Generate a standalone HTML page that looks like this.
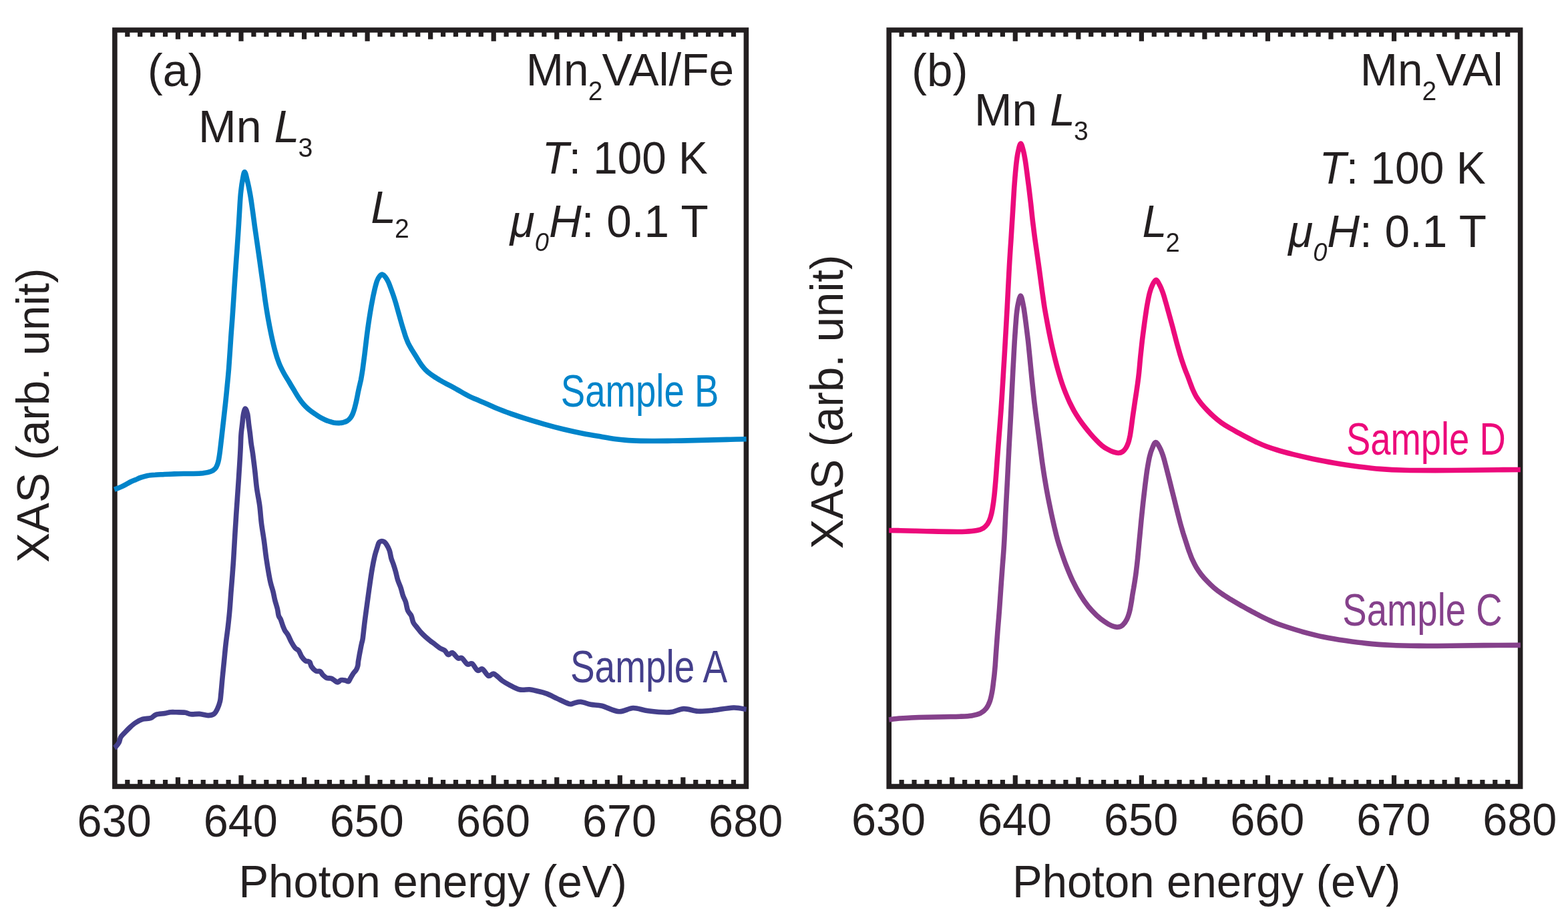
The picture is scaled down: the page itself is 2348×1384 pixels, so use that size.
<!DOCTYPE html>
<html><head><meta charset="utf-8"><title>XAS spectra</title>
<style>html,body{margin:0;padding:0;background:#fff;}svg{display:block;}</style>
</head><body>
<svg width="2348" height="1384" viewBox="0 0 2348 1384" font-family="'Liberation Sans', Arial, Helvetica, sans-serif">
<rect width="2348" height="1384" fill="#fff"/>
<rect x="171.9" y="45.0" width="945.50" height="1133.00" fill="none" stroke="#231f20" stroke-width="7.6"/>
<path d="M190.81,47.80V55.00M190.81,1175.20V1168.00M209.72,47.80V55.00M209.72,1175.20V1168.00M228.63,47.80V55.00M228.63,1175.20V1168.00M247.54,47.80V55.00M247.54,1175.20V1168.00M266.45,47.80V58.80M266.45,1175.20V1164.20M285.36,47.80V55.00M285.36,1175.20V1168.00M304.27,47.80V55.00M304.27,1175.20V1168.00M323.18,47.80V55.00M323.18,1175.20V1168.00M342.09,47.80V55.00M342.09,1175.20V1168.00M361.00,47.80V61.80M361.00,1175.20V1161.20M379.91,47.80V55.00M379.91,1175.20V1168.00M398.82,47.80V55.00M398.82,1175.20V1168.00M417.73,47.80V55.00M417.73,1175.20V1168.00M436.64,47.80V55.00M436.64,1175.20V1168.00M455.55,47.80V58.80M455.55,1175.20V1164.20M474.46,47.80V55.00M474.46,1175.20V1168.00M493.37,47.80V55.00M493.37,1175.20V1168.00M512.28,47.80V55.00M512.28,1175.20V1168.00M531.19,47.80V55.00M531.19,1175.20V1168.00M550.10,47.80V61.80M550.10,1175.20V1161.20M569.01,47.80V55.00M569.01,1175.20V1168.00M587.92,47.80V55.00M587.92,1175.20V1168.00M606.83,47.80V55.00M606.83,1175.20V1168.00M625.74,47.80V55.00M625.74,1175.20V1168.00M644.65,47.80V58.80M644.65,1175.20V1164.20M663.56,47.80V55.00M663.56,1175.20V1168.00M682.47,47.80V55.00M682.47,1175.20V1168.00M701.38,47.80V55.00M701.38,1175.20V1168.00M720.29,47.80V55.00M720.29,1175.20V1168.00M739.20,47.80V61.80M739.20,1175.20V1161.20M758.11,47.80V55.00M758.11,1175.20V1168.00M777.02,47.80V55.00M777.02,1175.20V1168.00M795.93,47.80V55.00M795.93,1175.20V1168.00M814.84,47.80V55.00M814.84,1175.20V1168.00M833.75,47.80V58.80M833.75,1175.20V1164.20M852.66,47.80V55.00M852.66,1175.20V1168.00M871.57,47.80V55.00M871.57,1175.20V1168.00M890.48,47.80V55.00M890.48,1175.20V1168.00M909.39,47.80V55.00M909.39,1175.20V1168.00M928.30,47.80V61.80M928.30,1175.20V1161.20M947.21,47.80V55.00M947.21,1175.20V1168.00M966.12,47.80V55.00M966.12,1175.20V1168.00M985.03,47.80V55.00M985.03,1175.20V1168.00M1003.94,47.80V55.00M1003.94,1175.20V1168.00M1022.85,47.80V58.80M1022.85,1175.20V1164.20M1041.76,47.80V55.00M1041.76,1175.20V1168.00M1060.67,47.80V55.00M1060.67,1175.20V1168.00M1079.58,47.80V55.00M1079.58,1175.20V1168.00M1098.49,47.80V55.00M1098.49,1175.20V1168.00" stroke="#231f20" stroke-width="7.2" fill="none"/>
<rect x="1331.2" y="45.0" width="945.40" height="1133.00" fill="none" stroke="#231f20" stroke-width="7.6"/>
<path d="M1350.11,47.80V55.00M1350.11,1175.20V1168.00M1369.02,47.80V55.00M1369.02,1175.20V1168.00M1387.92,47.80V55.00M1387.92,1175.20V1168.00M1406.83,47.80V55.00M1406.83,1175.20V1168.00M1425.74,47.80V58.80M1425.74,1175.20V1164.20M1444.65,47.80V55.00M1444.65,1175.20V1168.00M1463.56,47.80V55.00M1463.56,1175.20V1168.00M1482.46,47.80V55.00M1482.46,1175.20V1168.00M1501.37,47.80V55.00M1501.37,1175.20V1168.00M1520.28,47.80V61.80M1520.28,1175.20V1161.20M1539.19,47.80V55.00M1539.19,1175.20V1168.00M1558.10,47.80V55.00M1558.10,1175.20V1168.00M1577.00,47.80V55.00M1577.00,1175.20V1168.00M1595.91,47.80V55.00M1595.91,1175.20V1168.00M1614.82,47.80V58.80M1614.82,1175.20V1164.20M1633.73,47.80V55.00M1633.73,1175.20V1168.00M1652.64,47.80V55.00M1652.64,1175.20V1168.00M1671.54,47.80V55.00M1671.54,1175.20V1168.00M1690.45,47.80V55.00M1690.45,1175.20V1168.00M1709.36,47.80V61.80M1709.36,1175.20V1161.20M1728.27,47.80V55.00M1728.27,1175.20V1168.00M1747.18,47.80V55.00M1747.18,1175.20V1168.00M1766.08,47.80V55.00M1766.08,1175.20V1168.00M1784.99,47.80V55.00M1784.99,1175.20V1168.00M1803.90,47.80V58.80M1803.90,1175.20V1164.20M1822.81,47.80V55.00M1822.81,1175.20V1168.00M1841.72,47.80V55.00M1841.72,1175.20V1168.00M1860.62,47.80V55.00M1860.62,1175.20V1168.00M1879.53,47.80V55.00M1879.53,1175.20V1168.00M1898.44,47.80V61.80M1898.44,1175.20V1161.20M1917.35,47.80V55.00M1917.35,1175.20V1168.00M1936.26,47.80V55.00M1936.26,1175.20V1168.00M1955.16,47.80V55.00M1955.16,1175.20V1168.00M1974.07,47.80V55.00M1974.07,1175.20V1168.00M1992.98,47.80V58.80M1992.98,1175.20V1164.20M2011.89,47.80V55.00M2011.89,1175.20V1168.00M2030.80,47.80V55.00M2030.80,1175.20V1168.00M2049.70,47.80V55.00M2049.70,1175.20V1168.00M2068.61,47.80V55.00M2068.61,1175.20V1168.00M2087.52,47.80V61.80M2087.52,1175.20V1161.20M2106.43,47.80V55.00M2106.43,1175.20V1168.00M2125.34,47.80V55.00M2125.34,1175.20V1168.00M2144.24,47.80V55.00M2144.24,1175.20V1168.00M2163.15,47.80V55.00M2163.15,1175.20V1168.00M2182.06,47.80V58.80M2182.06,1175.20V1164.20M2200.97,47.80V55.00M2200.97,1175.20V1168.00M2219.88,47.80V55.00M2219.88,1175.20V1168.00M2238.78,47.80V55.00M2238.78,1175.20V1168.00M2257.69,47.80V55.00M2257.69,1175.20V1168.00" stroke="#231f20" stroke-width="7.2" fill="none"/>
<path d="M171.2,733.2 C171.8,733.0 173.0,732.5 174.7,731.9 C176.5,731.2 179.3,730.2 181.7,729.1 C184.1,728.0 187.0,726.4 189.4,725.1 C191.8,723.9 193.7,722.6 196.0,721.5 C198.3,720.4 200.5,719.6 203.0,718.6 C205.5,717.5 208.2,716.2 211.1,715.2 C214.0,714.2 217.1,713.2 220.7,712.5 C224.2,711.9 228.1,711.6 232.4,711.3 C236.7,710.9 241.5,710.8 246.2,710.5 C251.0,710.3 256.4,710.1 261.1,709.9 C265.9,709.7 270.4,709.6 275.0,709.5 C279.6,709.4 284.1,709.6 288.9,709.5 C293.6,709.4 299.3,709.3 303.8,708.8 C308.2,708.2 312.6,707.4 315.6,706.3 C318.7,705.2 320.5,703.9 322.1,702.1 C323.7,700.3 324.6,698.1 325.5,695.8 C326.4,693.4 327.0,691.3 327.6,688.0 C328.2,684.7 328.7,681.4 329.4,676.0 C330.1,670.6 330.9,663.2 331.8,655.5 C332.7,647.8 333.7,638.6 334.7,630.0 C335.6,621.4 336.6,612.7 337.6,604.0 C338.5,595.3 339.4,586.7 340.2,578.0 C341.1,569.3 341.9,560.7 342.6,552.0 C343.2,543.3 343.8,534.6 344.4,526.0 C345.0,517.4 345.6,508.9 346.1,500.5 C346.7,492.1 347.4,483.9 348.0,475.5 C348.6,467.1 349.2,458.6 349.7,450.0 C350.3,441.4 350.8,432.7 351.4,424.0 C352.0,415.3 352.6,406.7 353.2,398.0 C353.8,389.3 354.5,380.2 355.1,372.0 C355.7,363.8 356.2,355.7 356.7,348.5 C357.2,341.3 357.5,335.4 357.9,329.0 C358.3,322.6 358.6,316.5 359.0,310.0 C359.4,303.5 359.8,296.4 360.4,290.0 C361.1,283.6 361.8,277.3 362.8,271.9 C363.8,266.5 365.0,257.5 366.3,257.5 C367.6,257.5 369.3,266.5 370.7,271.9 C372.0,277.3 373.3,283.6 374.4,290.0 C375.6,296.4 376.6,303.5 377.5,310.0 C378.5,316.5 379.2,322.6 380.1,329.0 C380.9,335.4 381.7,341.3 382.8,348.5 C383.8,355.7 385.0,363.8 386.2,372.0 C387.4,380.2 388.7,389.3 389.9,398.0 C391.1,406.7 392.3,415.3 393.6,424.0 C394.8,432.7 395.9,441.4 397.1,450.0 C398.4,458.6 399.7,467.1 401.2,475.5 C402.7,483.9 404.3,492.4 406.0,500.5 C407.7,508.6 409.6,517.1 411.6,524.4 C413.5,531.6 415.6,538.2 417.8,543.9 C420.0,549.6 422.3,553.9 424.8,558.5 C427.2,563.1 430.0,567.2 432.6,571.5 C435.1,575.9 437.8,580.4 440.4,584.6 C442.9,588.8 445.4,593.1 447.8,596.6 C450.1,600.1 452.4,603.0 454.5,605.5 C456.6,608.0 458.4,609.7 460.5,611.6 C462.6,613.5 464.9,615.2 467.1,616.9 C469.4,618.5 471.9,620.2 474.1,621.6 C476.2,623.1 478.2,624.3 480.2,625.5 C482.2,626.7 484.1,627.6 486.1,628.5 C488.2,629.5 490.3,630.3 492.5,631.0 C494.7,631.7 496.9,632.5 499.3,633.0 C501.7,633.4 504.2,633.6 506.6,633.6 C509.1,633.6 511.9,633.2 514.2,632.7 C516.4,632.1 518.5,631.3 520.2,630.2 C522.0,629.2 523.3,627.8 524.6,626.2 C525.9,624.6 526.9,622.6 527.9,620.5 C528.9,618.3 529.7,615.7 530.5,613.1 C531.3,610.5 532.0,607.6 532.7,604.7 C533.4,601.9 534.0,598.9 534.6,596.0 C535.2,593.1 535.7,590.2 536.3,587.3 C536.9,584.4 537.5,581.8 538.2,578.7 C538.9,575.6 539.6,573.0 540.5,568.7 C541.3,564.4 542.2,559.4 543.1,553.0 C544.0,546.6 545.1,538.2 546.1,530.0 C547.1,521.8 548.1,512.7 549.2,504.0 C550.3,495.3 551.5,486.4 552.8,478.0 C554.1,469.6 555.5,460.9 556.9,453.6 C558.2,446.3 559.6,439.6 560.9,434.1 C562.2,428.7 563.3,424.4 564.5,421.0 C565.8,417.6 566.9,415.6 568.3,413.9 C569.7,412.3 571.1,410.9 572.7,411.2 C574.3,411.5 576.2,413.7 577.7,415.8 C579.3,417.9 580.7,420.8 582.1,423.7 C583.4,426.7 584.6,430.2 585.8,433.5 C587.0,436.8 588.2,440.0 589.4,443.6 C590.6,447.2 591.8,451.0 593.0,455.0 C594.1,459.0 595.4,463.4 596.5,467.6 C597.7,471.8 598.8,475.9 600.0,480.0 C601.1,484.0 602.2,487.8 603.4,491.6 C604.6,495.5 605.8,499.6 607.1,503.4 C608.4,507.1 609.8,510.7 611.3,514.1 C612.9,517.4 614.7,520.4 616.5,523.5 C618.4,526.6 620.4,529.8 622.4,532.9 C624.3,536.1 626.3,539.5 628.2,542.3 C630.1,545.2 631.7,547.7 633.8,550.1 C635.8,552.6 637.6,554.5 640.3,556.9 C643.0,559.2 646.6,561.7 650.0,564.0 C653.4,566.3 657.2,568.5 660.6,570.5 C664.0,572.5 667.2,574.0 670.5,575.8 C673.8,577.6 677.1,579.3 680.4,581.1 C683.8,583.0 687.1,585.0 690.7,587.0 C694.3,589.1 697.9,591.2 702.2,593.3 C706.4,595.4 711.5,597.5 716.2,599.5 C720.9,601.6 725.6,603.5 730.3,605.5 C735.0,607.6 739.0,609.6 744.3,611.8 C749.7,614.0 755.4,616.3 762.2,618.7 C769.0,621.2 776.7,623.7 785.2,626.4 C793.7,629.1 803.5,632.1 813.3,634.8 C823.1,637.6 833.9,640.5 844.0,643.0 C854.1,645.4 864.3,647.6 873.7,649.5 C883.0,651.3 891.8,652.7 900.0,654.1 C908.1,655.5 914.8,656.7 922.6,657.7 C930.4,658.6 937.7,659.4 946.5,659.9 C955.4,660.4 965.6,660.5 975.8,660.5 C986.0,660.6 997.1,660.4 1007.8,660.3 C1018.4,660.1 1029.5,659.9 1039.7,659.6 C1049.9,659.4 1060.0,659.1 1069.0,658.9 C1078.0,658.6 1085.7,658.4 1093.8,658.2 C1101.9,658.0 1113.6,657.8 1117.6,657.7" fill="none" stroke="#0084ca" stroke-width="7.6" stroke-linejoin="round" stroke-linecap="butt"/>
<path d="M171.2,1120.0 C171.5,1119.8 171.8,1120.1 173.0,1118.8 C174.2,1117.5 176.9,1114.4 178.2,1111.9 C179.5,1109.5 179.4,1106.5 180.8,1104.1 C182.2,1101.6 184.6,1099.7 186.9,1097.2 C189.2,1094.8 192.0,1091.9 194.7,1089.4 C197.4,1086.9 200.1,1084.4 203.3,1082.4 C206.5,1080.4 209.9,1078.4 213.7,1077.2 C217.5,1076.0 222.6,1076.7 225.9,1075.5 C229.2,1074.3 230.2,1071.5 233.7,1070.3 C237.2,1069.1 243.1,1069.1 246.7,1068.5 C250.3,1067.9 252.5,1067.1 255.4,1066.8 C258.3,1066.5 260.4,1066.7 264.0,1066.8 C267.6,1066.9 273.4,1066.7 277.0,1067.2 C280.6,1067.7 282.1,1069.4 285.7,1069.8 C289.3,1070.2 294.4,1069.1 298.7,1069.4 C303.0,1069.7 308.1,1071.6 311.7,1071.6 C315.3,1071.6 318.1,1071.1 320.4,1069.4 C322.7,1067.7 324.1,1064.8 325.6,1061.6 C327.1,1058.4 328.6,1053.9 329.5,1050.3 C330.4,1046.7 330.2,1045.7 330.8,1040.0 C331.4,1034.3 332.2,1024.3 333.0,1016.0 C333.8,1007.7 334.7,998.7 335.6,990.0 C336.5,981.3 337.2,972.7 338.2,964.0 C339.2,955.3 340.5,946.7 341.5,938.0 C342.5,929.3 343.4,920.7 344.1,912.0 C344.9,903.3 345.3,894.7 346.0,886.0 C346.7,877.3 347.5,868.3 348.1,860.0 C348.7,851.7 349.3,844.3 349.8,836.0 C350.3,827.7 350.8,818.7 351.3,810.0 C351.8,801.3 352.3,792.7 352.9,784.0 C353.4,775.3 354.0,766.7 354.6,758.0 C355.2,749.3 355.8,740.7 356.4,732.0 C357.0,723.3 357.6,714.7 358.1,706.0 C358.7,697.3 359.3,686.8 359.7,680.0 C360.1,673.2 360.2,670.0 360.4,665.0 C360.6,660.0 360.7,655.0 361.1,650.0 C361.5,645.0 362.2,640.0 362.8,635.0 C363.4,630.0 363.8,623.8 364.6,620.0 C365.4,616.2 366.4,612.0 367.4,612.0 C368.4,612.0 369.8,616.2 370.6,620.0 C371.5,623.8 371.9,630.0 372.5,635.0 C373.1,640.0 373.9,645.0 374.5,650.0 C375.1,655.0 375.5,660.0 376.2,665.0 C376.9,670.0 377.7,673.2 378.6,680.0 C379.5,686.8 380.8,697.3 381.8,706.0 C382.8,714.7 383.4,723.3 384.6,732.0 C385.8,740.7 387.8,749.3 388.9,758.0 C390.0,766.7 390.4,775.3 391.5,784.0 C392.6,792.7 394.2,801.3 395.4,810.0 C396.6,818.7 397.5,827.7 398.7,836.0 C399.9,844.3 401.5,853.8 402.6,860.0 C403.7,866.2 404.1,868.7 405.2,873.0 C406.2,877.3 407.8,881.7 408.9,886.0 C410.0,890.3 410.6,894.7 411.7,899.0 C412.8,903.3 414.5,908.1 415.4,912.0 C416.3,915.9 416.5,919.8 417.3,922.4 C418.1,925.0 419.1,925.0 420.2,927.6 C421.3,930.2 422.7,935.2 423.8,938.0 C424.9,940.8 425.5,942.4 426.7,944.6 C427.9,946.8 429.6,948.2 431.2,951.0 C432.8,953.8 434.4,958.2 436.2,961.5 C438.0,964.8 440.2,968.4 442.0,970.6 C443.8,972.8 445.6,972.3 447.2,974.5 C448.8,976.7 450.1,981.0 451.8,983.6 C453.5,986.2 456.1,988.9 457.6,990.0 C459.1,991.1 459.9,990.2 461.0,990.5 C462.1,990.8 463.1,990.7 464.0,992.0 C464.9,993.3 465.0,996.3 466.5,998.5 C468.0,1000.7 470.8,1003.8 473.0,1005.0 C475.2,1006.2 477.8,1004.7 479.5,1005.7 C481.2,1006.7 481.8,1009.3 483.4,1010.9 C485.0,1012.5 487.2,1014.5 489.3,1015.4 C491.4,1016.3 494.0,1015.5 495.8,1016.1 C497.6,1016.7 498.7,1017.7 500.3,1018.7 C501.9,1019.7 503.8,1022.0 505.5,1022.0 C507.2,1022.0 508.8,1019.2 510.7,1018.7 C512.5,1018.2 514.8,1018.7 516.6,1019.0 C518.5,1019.3 520.4,1021.3 521.8,1020.7 C523.2,1020.1 523.8,1017.4 525.0,1015.4 C526.2,1013.4 527.5,1010.9 528.9,1008.9 C530.3,1006.9 532.4,1005.0 533.5,1003.1 C534.6,1001.2 535.3,999.3 535.8,997.2 C536.3,995.1 536.1,993.2 536.5,990.7 C536.9,988.2 537.5,985.0 538.0,982.0 C538.5,979.0 539.2,975.7 539.8,972.5 C540.4,969.3 541.2,965.5 541.8,962.8 C542.4,960.0 542.5,961.5 543.3,956.0 C544.0,950.5 545.2,938.7 546.3,930.0 C547.4,921.3 548.6,912.7 549.8,904.0 C551.0,895.3 552.1,886.7 553.4,878.0 C554.6,869.3 556.0,859.6 557.3,852.0 C558.6,844.4 559.9,837.9 561.2,832.5 C562.5,827.1 564.0,822.9 565.1,819.5 C566.2,816.1 566.5,813.4 568.0,812.0 C569.5,810.6 572.4,810.4 574.2,811.0 C576.0,811.6 577.3,813.3 578.8,815.6 C580.3,817.9 582.1,821.2 583.3,824.7 C584.5,828.2 584.9,832.9 585.9,836.4 C586.9,839.9 588.1,842.2 589.2,845.5 C590.3,848.8 591.3,852.0 592.4,855.9 C593.5,859.8 594.4,864.8 595.7,868.9 C597.0,873.0 598.9,876.7 600.2,880.6 C601.5,884.5 602.3,888.8 603.5,892.3 C604.7,895.8 606.2,897.7 607.4,901.4 C608.6,905.1 609.2,910.9 610.6,914.4 C612.0,917.9 614.4,919.2 615.8,922.2 C617.2,925.2 617.5,929.6 619.0,932.6 C620.5,935.6 623.0,938.0 624.9,940.4 C626.8,942.8 628.1,944.7 630.1,946.9 C632.1,949.1 634.2,951.2 636.6,953.4 C639.0,955.6 642.2,958.2 644.4,959.9 C646.6,961.6 647.2,962.0 649.6,963.8 C652.0,965.6 655.8,968.8 658.5,970.6 C661.2,972.4 664.0,972.8 666.1,974.5 C668.2,976.2 669.3,980.2 671.2,980.7 C673.1,981.2 675.0,976.8 677.4,977.6 C679.8,978.5 683.2,984.4 685.6,985.8 C688.0,987.2 689.3,984.3 691.7,985.8 C694.1,987.3 697.4,993.6 699.9,995.0 C702.4,996.4 704.5,992.5 707.0,994.0 C709.5,995.5 712.6,1002.9 715.2,1004.2 C717.8,1005.6 719.7,1000.7 722.4,1002.1 C725.1,1003.5 728.7,1011.2 731.6,1012.4 C734.5,1013.6 736.3,1008.1 739.7,1009.3 C743.1,1010.5 748.2,1016.8 752.0,1019.5 C755.8,1022.2 757.9,1023.4 762.2,1025.6 C766.5,1027.8 772.5,1031.6 777.6,1032.8 C782.7,1034.0 788.6,1032.5 792.9,1032.8 C797.1,1033.1 798.9,1033.8 803.1,1034.8 C807.4,1035.8 813.3,1037.0 818.4,1038.9 C823.5,1040.8 828.2,1043.5 833.8,1046.1 C839.4,1048.7 848.0,1053.1 852.2,1054.3 C856.5,1055.5 856.4,1053.7 859.3,1053.2 C862.2,1052.7 865.2,1050.9 869.5,1051.2 C873.8,1051.5 879.6,1054.3 884.9,1055.3 C890.2,1056.3 894.3,1055.5 901.3,1057.3 C908.3,1059.0 919.0,1065.3 926.8,1065.8 C934.6,1066.3 940.8,1060.7 948.1,1060.5 C955.4,1060.3 961.5,1063.7 970.5,1064.8 C979.5,1065.9 993.5,1067.4 1002.4,1066.9 C1011.3,1066.4 1016.6,1061.9 1023.7,1061.6 C1030.8,1061.3 1037.9,1064.9 1045.0,1065.3 C1052.1,1065.7 1057.4,1065.1 1066.3,1064.2 C1075.2,1063.3 1089.8,1060.3 1098.3,1060.0 C1106.8,1059.7 1114.4,1062.2 1117.6,1062.6" fill="none" stroke="#443f8b" stroke-width="7.6" stroke-linejoin="round" stroke-linecap="butt"/>
<path d="M1331.2,794.5 C1334.1,794.5 1341.7,794.6 1348.4,794.7 C1355.0,794.9 1363.1,795.1 1371.1,795.3 C1379.2,795.5 1388.2,795.7 1396.7,795.9 C1405.2,796.1 1414.1,796.3 1422.2,796.4 C1430.4,796.5 1438.9,796.6 1445.7,796.3 C1452.4,796.0 1458.2,795.5 1462.7,794.6 C1467.2,793.7 1469.9,792.5 1472.6,790.9 C1475.3,789.3 1476.9,787.4 1478.7,784.9 C1480.4,782.4 1481.7,779.5 1483.0,775.6 C1484.2,771.8 1485.3,767.4 1486.2,761.9 C1487.2,756.3 1488.1,749.7 1488.9,742.4 C1489.7,735.1 1490.4,726.4 1491.1,718.0 C1491.8,709.6 1492.4,700.7 1493.0,692.0 C1493.7,683.3 1494.3,674.6 1495.0,666.0 C1495.6,657.4 1496.3,648.9 1497.0,640.5 C1497.6,632.1 1498.3,623.9 1498.9,615.5 C1499.5,607.1 1500.1,598.6 1500.6,590.0 C1501.2,581.4 1501.6,572.7 1502.2,564.0 C1502.7,555.3 1503.2,546.7 1503.8,538.0 C1504.3,529.3 1504.8,520.7 1505.3,512.0 C1505.8,503.3 1506.3,494.6 1506.8,486.0 C1507.2,477.4 1507.7,468.9 1508.2,460.5 C1508.6,452.1 1509.1,443.9 1509.5,435.5 C1509.9,427.1 1510.3,418.6 1510.8,410.0 C1511.3,401.4 1511.7,392.7 1512.3,384.0 C1512.8,375.3 1513.4,366.7 1514.0,358.0 C1514.5,349.3 1515.1,340.7 1515.6,332.0 C1516.2,323.3 1516.7,314.4 1517.2,306.0 C1517.7,297.6 1518.2,289.2 1518.7,281.5 C1519.3,273.8 1519.8,266.7 1520.4,260.0 C1521.0,253.3 1521.6,246.9 1522.3,241.2 C1523.0,235.6 1523.7,230.6 1524.8,226.2 C1525.8,221.9 1527.2,215.0 1528.5,215.0 C1529.8,215.0 1531.3,221.9 1532.5,226.2 C1533.6,230.6 1534.5,235.6 1535.4,241.2 C1536.3,246.9 1537.1,253.3 1538.0,260.0 C1538.8,266.7 1539.8,273.8 1540.8,281.5 C1541.7,289.2 1542.7,297.6 1543.7,306.0 C1544.6,314.4 1545.5,323.3 1546.5,332.0 C1547.6,340.7 1548.6,349.3 1549.8,358.0 C1551.0,366.7 1552.3,375.3 1553.5,384.0 C1554.7,392.7 1556.0,401.4 1557.1,410.0 C1558.3,418.6 1559.3,427.1 1560.5,435.5 C1561.7,443.9 1562.8,452.1 1564.1,460.5 C1565.5,468.9 1567.1,477.4 1568.7,486.0 C1570.3,494.6 1572.1,503.5 1573.9,512.0 C1575.7,520.5 1577.8,529.3 1579.7,537.0 C1581.6,544.7 1583.5,551.8 1585.3,558.0 C1587.1,564.2 1588.6,569.1 1590.3,574.1 C1592.0,579.1 1593.6,583.5 1595.5,588.2 C1597.4,592.9 1599.4,597.7 1601.6,602.3 C1603.8,606.8 1606.0,611.4 1608.4,615.6 C1610.8,619.8 1613.3,623.7 1615.9,627.6 C1618.5,631.5 1621.3,635.2 1624.1,638.9 C1626.9,642.5 1629.9,646.2 1632.8,649.6 C1635.7,653.1 1638.8,656.4 1641.7,659.4 C1644.5,662.4 1647.3,665.1 1650.2,667.4 C1653.0,669.7 1655.9,671.5 1658.7,673.0 C1661.5,674.6 1664.4,676.0 1667.1,676.9 C1669.8,677.8 1672.4,678.6 1674.7,678.5 C1677.0,678.5 1679.1,677.8 1681.0,676.5 C1682.9,675.2 1684.5,673.3 1686.0,671.0 C1687.4,668.7 1688.6,665.9 1689.7,662.7 C1690.7,659.5 1691.5,655.8 1692.3,651.9 C1693.0,648.0 1693.6,643.6 1694.2,639.3 C1694.8,635.0 1695.3,630.6 1695.9,626.3 C1696.5,622.0 1697.1,617.6 1697.8,613.3 C1698.4,609.0 1699.1,604.6 1699.7,600.3 C1700.4,596.0 1701.0,591.6 1701.7,587.3 C1702.3,583.0 1702.9,579.1 1703.6,574.2 C1704.3,569.3 1704.9,564.4 1705.6,557.8 C1706.3,551.3 1706.9,543.1 1707.7,535.0 C1708.6,526.9 1709.5,517.7 1710.5,509.0 C1711.6,500.3 1712.8,491.4 1713.9,483.0 C1715.1,474.6 1716.3,465.9 1717.5,458.6 C1718.8,451.3 1720.0,444.5 1721.4,439.1 C1722.8,433.8 1724.3,429.8 1725.9,426.4 C1727.5,423.1 1729.5,419.2 1731.3,419.3 C1733.1,419.4 1734.9,424.0 1736.6,427.1 C1738.2,430.2 1739.8,434.1 1741.2,438.1 C1742.7,442.2 1744.0,447.0 1745.3,451.5 C1746.6,455.9 1747.8,460.4 1749.0,464.8 C1750.2,469.2 1751.4,473.5 1752.6,477.8 C1753.8,482.1 1755.0,486.5 1756.2,490.8 C1757.3,495.1 1758.4,499.5 1759.6,503.8 C1760.7,508.1 1761.8,512.5 1763.0,516.8 C1764.2,521.1 1765.4,525.5 1766.7,529.8 C1768.0,534.1 1769.4,538.7 1770.8,542.8 C1772.1,546.9 1773.6,550.9 1774.9,554.3 C1776.2,557.8 1777.3,560.3 1778.5,563.3 C1779.6,566.3 1780.6,568.9 1781.8,572.3 C1783.1,575.6 1784.4,579.7 1786.1,583.5 C1787.8,587.3 1789.7,591.4 1791.9,595.0 C1794.2,598.6 1796.7,601.9 1799.3,605.1 C1802.0,608.4 1804.8,611.4 1807.8,614.5 C1810.8,617.6 1814.0,620.8 1817.5,623.9 C1820.9,627.0 1824.6,630.0 1828.5,632.8 C1832.4,635.6 1836.6,638.2 1841.0,640.8 C1845.3,643.4 1850.0,645.8 1854.6,648.3 C1859.2,650.8 1864.0,653.4 1868.7,655.9 C1873.4,658.3 1878.1,660.8 1882.8,662.9 C1887.5,665.1 1891.7,666.9 1896.7,668.8 C1901.6,670.6 1906.0,672.1 1912.5,674.0 C1919.0,676.0 1926.7,678.1 1935.7,680.4 C1944.7,682.6 1955.8,685.2 1966.4,687.5 C1977.1,689.7 1988.6,691.8 1999.7,693.7 C2010.8,695.6 2021.8,697.2 2032.9,698.7 C2044.0,700.1 2054.3,701.5 2066.1,702.4 C2077.9,703.3 2089.6,703.9 2103.5,704.3 C2117.3,704.6 2133.3,704.6 2149.2,704.6 C2165.1,704.6 2183.3,704.4 2199.0,704.2 C2214.7,704.1 2230.4,703.9 2243.4,703.7 C2256.3,703.6 2271.2,703.5 2276.8,703.5" fill="none" stroke="#ec0a7b" stroke-width="7.6" stroke-linejoin="round" stroke-linecap="butt"/>
<path d="M1331.2,1078.0 C1331.9,1077.9 1333.0,1077.5 1335.6,1077.2 C1338.2,1076.9 1341.8,1076.4 1346.7,1076.0 C1351.5,1075.7 1357.8,1075.3 1364.7,1075.0 C1371.6,1074.7 1380.0,1074.4 1388.1,1074.2 C1396.3,1074.0 1405.5,1073.9 1413.7,1073.7 C1421.8,1073.5 1430.2,1073.5 1437.1,1073.2 C1444.0,1072.9 1450.1,1072.7 1455.2,1071.9 C1460.4,1071.1 1464.4,1070.1 1468.0,1068.4 C1471.6,1066.6 1474.4,1064.2 1476.7,1061.2 C1479.1,1058.2 1480.8,1054.4 1482.3,1050.2 C1483.8,1046.1 1484.7,1041.1 1485.6,1036.4 C1486.5,1031.7 1487.1,1026.3 1487.6,1021.8 C1488.2,1017.3 1488.7,1013.6 1489.1,1009.3 C1489.5,1005.0 1489.9,1001.6 1490.3,996.0 C1490.7,990.4 1491.1,983.2 1491.7,975.5 C1492.2,967.8 1492.9,958.6 1493.6,950.0 C1494.2,941.4 1495.0,932.7 1495.7,924.0 C1496.4,915.3 1497.0,906.7 1497.6,898.0 C1498.2,889.3 1498.8,880.7 1499.4,872.0 C1500.0,863.3 1500.7,854.6 1501.3,846.0 C1502.0,837.4 1502.7,828.9 1503.2,820.5 C1503.8,812.1 1504.2,803.9 1504.6,795.5 C1505.1,787.1 1505.4,778.6 1505.8,770.0 C1506.3,761.4 1506.7,752.7 1507.2,744.0 C1507.7,735.3 1508.1,726.7 1508.6,718.0 C1509.0,709.3 1509.5,700.7 1509.9,692.0 C1510.3,683.3 1510.8,674.6 1511.2,666.0 C1511.7,657.4 1512.2,648.9 1512.6,640.5 C1513.1,632.1 1513.5,623.9 1513.9,615.5 C1514.3,607.1 1514.7,598.6 1515.1,590.0 C1515.5,581.4 1516.0,572.7 1516.4,564.0 C1516.8,555.3 1517.3,546.7 1517.8,538.0 C1518.2,529.3 1518.7,520.2 1519.2,512.0 C1519.7,503.8 1520.3,495.5 1520.8,488.5 C1521.4,481.5 1521.7,475.7 1522.3,470.2 C1522.9,464.8 1523.4,460.3 1524.4,455.8 C1525.4,451.2 1527.0,443.0 1528.3,443.0 C1529.6,443.0 1531.0,451.2 1532.0,455.8 C1533.0,460.3 1533.7,464.8 1534.4,470.2 C1535.2,475.7 1535.9,481.5 1536.8,488.5 C1537.7,495.5 1538.7,503.8 1539.7,512.0 C1540.6,520.2 1541.4,529.3 1542.3,538.0 C1543.2,546.7 1543.9,555.3 1544.8,564.0 C1545.7,572.7 1546.6,581.4 1547.5,590.0 C1548.4,598.6 1549.4,607.1 1550.5,615.5 C1551.5,623.9 1552.7,632.1 1553.8,640.5 C1554.9,648.9 1556.0,657.4 1557.2,666.0 C1558.3,674.6 1559.4,683.3 1560.6,692.0 C1561.9,700.7 1563.1,709.3 1564.6,718.0 C1566.0,726.7 1567.5,735.3 1569.2,744.0 C1570.9,752.7 1572.8,761.9 1574.5,770.0 C1576.3,778.1 1578.0,786.0 1579.6,792.5 C1581.1,799.0 1582.2,803.3 1583.7,808.8 C1585.2,814.2 1586.7,818.9 1588.8,825.1 C1590.9,831.3 1593.4,838.8 1596.2,846.2 C1599.1,853.6 1602.4,861.9 1606.0,869.4 C1609.6,876.8 1613.7,884.5 1617.7,891.0 C1621.6,897.5 1625.7,903.3 1629.7,908.4 C1633.8,913.4 1637.8,917.5 1641.9,921.4 C1646.0,925.2 1650.5,928.7 1654.4,931.4 C1658.2,934.1 1662.0,936.3 1665.2,937.6 C1668.4,938.9 1671.1,939.5 1673.7,939.3 C1676.4,939.1 1678.9,938.2 1681.1,936.3 C1683.4,934.4 1685.5,931.4 1687.2,928.0 C1688.9,924.7 1690.3,920.2 1691.4,916.2 C1692.5,912.2 1693.1,908.0 1693.8,904.0 C1694.6,900.1 1695.0,896.3 1695.6,892.5 C1696.2,888.6 1696.9,884.7 1697.6,880.8 C1698.2,876.9 1698.9,873.5 1699.5,869.2 C1700.2,864.8 1700.9,860.3 1701.5,854.8 C1702.2,849.3 1703.0,842.2 1703.6,836.3 C1704.2,830.4 1704.7,824.8 1705.2,819.2 C1705.8,813.5 1706.1,809.0 1706.8,802.5 C1707.4,796.0 1708.1,788.1 1708.9,780.0 C1709.7,771.9 1710.7,762.7 1711.6,754.0 C1712.6,745.3 1713.6,736.4 1714.6,728.0 C1715.7,719.6 1716.7,710.9 1717.8,703.6 C1719.0,696.3 1720.1,689.6 1721.4,684.1 C1722.7,678.7 1724.0,674.6 1725.6,671.0 C1727.1,667.4 1728.8,662.7 1730.6,662.5 C1732.4,662.3 1734.6,666.9 1736.4,670.0 C1738.2,673.2 1739.8,677.3 1741.2,681.5 C1742.7,685.7 1743.9,690.7 1745.1,695.2 C1746.3,699.7 1747.4,704.1 1748.5,708.5 C1749.6,712.9 1750.7,717.2 1751.8,721.5 C1752.9,725.8 1753.9,730.2 1755.0,734.5 C1756.1,738.8 1757.2,743.2 1758.3,747.5 C1759.4,751.8 1760.4,756.2 1761.5,760.5 C1762.6,764.8 1763.7,769.2 1764.8,773.5 C1765.9,777.8 1767.0,782.3 1768.2,786.5 C1769.4,790.7 1770.6,794.8 1771.8,798.9 C1773.1,803.0 1774.4,806.9 1775.8,811.2 C1777.2,815.5 1778.6,820.2 1780.2,824.7 C1781.9,829.2 1783.6,833.9 1785.4,838.1 C1787.3,842.3 1789.2,846.2 1791.5,850.0 C1793.7,853.7 1796.1,857.1 1798.8,860.6 C1801.5,864.1 1804.5,867.4 1807.7,870.7 C1810.8,874.0 1814.1,877.2 1817.8,880.3 C1821.4,883.4 1825.2,886.2 1829.4,889.1 C1833.6,892.1 1838.2,894.9 1842.8,897.8 C1847.4,900.6 1852.2,903.4 1857.0,906.1 C1861.8,908.8 1866.5,911.5 1871.4,914.2 C1876.3,916.9 1881.6,919.6 1886.3,922.1 C1891.1,924.5 1895.8,926.8 1899.8,928.6 C1903.8,930.5 1906.1,931.6 1910.3,933.2 C1914.5,934.9 1918.4,936.3 1925.2,938.5 C1932.1,940.7 1941.8,943.9 1951.4,946.6 C1961.1,949.2 1972.5,952.1 1983.0,954.3 C1993.5,956.5 2004.0,958.1 2014.5,959.6 C2025.0,961.2 2034.9,962.5 2046.1,963.6 C2057.2,964.7 2068.4,965.7 2081.5,966.3 C2094.7,967.0 2109.8,967.3 2124.9,967.4 C2140.0,967.6 2155.9,967.4 2172.1,967.2 C2188.3,967.1 2204.5,966.8 2221.9,966.6 C2239.4,966.5 2267.7,966.4 2276.8,966.4" fill="none" stroke="#85418b" stroke-width="7.6" stroke-linejoin="round" stroke-linecap="butt"/>
<text transform="translate(221.06,128.9) scale(0.9855,1)" fill="#231f20" font-size="69.3">(a)</text>
<text transform="translate(297.00,212.8) scale(0.9825,1)" fill="#231f20" font-size="69.3">Mn <tspan font-style="italic">L</tspan><tspan font-size="40" dy="22" dx="-2">3</tspan></text>
<text transform="translate(555.24,334.0) scale(0.9800,1)" fill="#231f20" font-size="69.3"><tspan font-style="italic">L</tspan><tspan font-size="40" dy="22" dx="-2">2</tspan></text>
<text transform="translate(787.75,128.2) scale(0.9755,1)" fill="#231f20" font-size="69.3">Mn<tspan font-size="40" dy="22" dx="-1">2</tspan><tspan dy="-22" dx="-1">VAl/Fe</tspan></text>
<text transform="translate(811.72,260.0) scale(0.9475,1)" fill="#231f20" font-size="69.3"><tspan font-style="italic">T</tspan>: 100 K</text>
<text transform="translate(763.77,354.8) scale(0.9743,1)" fill="#231f20" font-size="69.3"><tspan font-style="italic">μ</tspan><tspan font-size="39" dy="21.6" font-style="italic">0</tspan><tspan dy="-21.6"><tspan font-style="italic">H</tspan>: 0.1 T</tspan></text>
<text transform="translate(839.84,608.7) scale(0.7871,1)" fill="#0084ca" font-size="69.3">Sample B</text>
<text transform="translate(853.92,1022.0) scale(0.7932,1)" fill="#443f8b" font-size="69.3">Sample A</text>
<text transform="translate(357.39,1343.9) scale(0.9676,1)" fill="#231f20" font-size="69.3">Photon energy (eV)</text>
<text transform="translate(72.8,842.84) rotate(-90) scale(0.9710,1)" fill="#231f20" font-size="69.3">XAS (arb. unit)</text>
<text transform="translate(1365.01,128.9) scale(0.9974,1)" fill="#231f20" font-size="69.3">(b)</text>
<text transform="translate(1459.02,187.6) scale(0.9795,1)" fill="#231f20" font-size="69.3">Mn <tspan font-style="italic">L</tspan><tspan font-size="40" dy="22" dx="-2">3</tspan></text>
<text transform="translate(1710.59,354.8) scale(0.9545,1)" fill="#231f20" font-size="69.3"><tspan font-style="italic">L</tspan><tspan font-size="40" dy="22" dx="-2">2</tspan></text>
<text transform="translate(2036.65,127.6) scale(0.9756,1)" fill="#231f20" font-size="69.3">Mn<tspan font-size="40" dy="22" dx="-1">2</tspan><tspan dy="-22" dx="-1">VAl</tspan></text>
<text transform="translate(1975.39,274.9) scale(0.9518,1)" fill="#231f20" font-size="69.3"><tspan font-style="italic">T</tspan>: 100 K</text>
<text transform="translate(1929.17,369.5) scale(0.9737,1)" fill="#231f20" font-size="69.3"><tspan font-style="italic">μ</tspan><tspan font-size="39" dy="21.6" font-style="italic">0</tspan><tspan dy="-21.6"><tspan font-style="italic">H</tspan>: 0.1 T</tspan></text>
<text transform="translate(2015.95,681.1) scale(0.7849,1)" fill="#ec0a7b" font-size="69.3">Sample D</text>
<text transform="translate(2010.34,937.0) scale(0.7862,1)" fill="#85418b" font-size="69.3">Sample C</text>
<text transform="translate(1515.99,1343.8) scale(0.9676,1)" fill="#231f20" font-size="69.3">Photon energy (eV)</text>
<text transform="translate(1261.8,822.34) rotate(-90) scale(0.9699,1)" fill="#231f20" font-size="69.3">XAS (arb. unit)</text>
<text transform="translate(115.60,1252.5) scale(0.9624,1)" fill="#231f20" font-size="69.2">630</text>
<text transform="translate(1274.90,1251.4) scale(0.9624,1)" fill="#231f20" font-size="69.2">630</text>
<text transform="translate(304.70,1252.5) scale(0.9624,1)" fill="#231f20" font-size="69.2">640</text>
<text transform="translate(1463.98,1251.4) scale(0.9624,1)" fill="#231f20" font-size="69.2">640</text>
<text transform="translate(493.80,1252.5) scale(0.9624,1)" fill="#231f20" font-size="69.2">650</text>
<text transform="translate(1653.06,1251.4) scale(0.9624,1)" fill="#231f20" font-size="69.2">650</text>
<text transform="translate(682.90,1252.5) scale(0.9624,1)" fill="#231f20" font-size="69.2">660</text>
<text transform="translate(1842.14,1251.4) scale(0.9624,1)" fill="#231f20" font-size="69.2">660</text>
<text transform="translate(872.00,1252.5) scale(0.9624,1)" fill="#231f20" font-size="69.2">670</text>
<text transform="translate(2031.22,1251.4) scale(0.9624,1)" fill="#231f20" font-size="69.2">670</text>
<text transform="translate(1061.10,1252.5) scale(0.9624,1)" fill="#231f20" font-size="69.2">680</text>
<text transform="translate(2220.30,1251.4) scale(0.9624,1)" fill="#231f20" font-size="69.2">680</text>
</svg>
</body></html>
